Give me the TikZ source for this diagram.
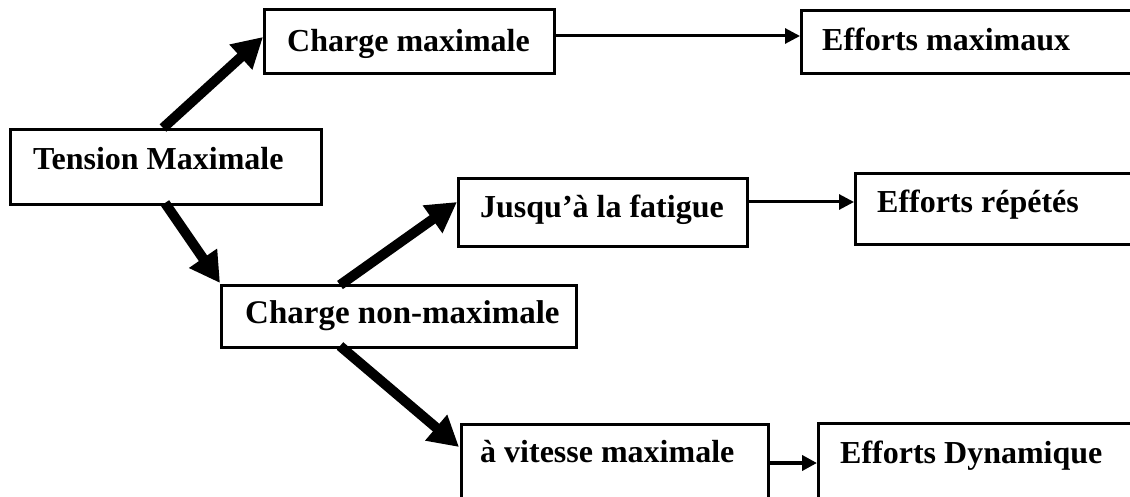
\documentclass[tikz,border=0pt]{standalone}
\usepackage{fontspec}
\setmainfont{Liberation Serif}
\usetikzlibrary{arrows.meta}
\tikzset{
  box/.style={draw=black, line width=3pt, rectangle, inner sep=0pt, anchor=north west},
  lbl/.style={anchor=base west, inner sep=0pt, font=\fontsize{32}{38}\selectfont\bfseries},
  bigarrow/.style={line width=10pt, -{Triangle[length=30pt,width=32pt]}},
  thinarrow/.style={line width=3pt, -{Triangle[length=15pt,width=15pt]}},
}
\begin{document}
\begin{tikzpicture}[x=1pt,y=-1pt]
  \useasboundingbox (0,0) rectangle (1130,497);
  \clip (0,0) rectangle (1130,497);
  % boxes (x, y of the top-left corner; width and height)
  \node[box, minimum width=311pt, minimum height=75pt] (tm) at (9,128) {};
  \node[box, minimum width=290pt, minimum height=64pt] (cm) at (263,8) {};
  \node[box, minimum width=360pt, minimum height=63pt] (em) at (800,9) {};
  \node[box, minimum width=289pt, minimum height=68pt] (jf) at (457,177) {};
  \node[box, minimum width=300pt, minimum height=71pt] (er) at (854,172) {};
  \node[box, minimum width=355pt, minimum height=62pt] (cn) at (220,284) {};
  \node[box, minimum width=307pt, minimum height=75pt] (vm) at (460,423) {};
  \node[box, minimum width=340pt, minimum height=75pt] (ed) at (817,422) {};
  % labels
  \node[lbl] (ttm) at (33,170) {Tension Maximale};
  \node[lbl] (tcm) at (287,52) {Charge maximale};
  \node[lbl] (tem) at (822,51) {Efforts maximaux};
  \node[lbl] (tjf) at (480,218) {Jusqu’à la fatigue};
  \node[lbl] (ter) at (877,213) {Efforts répétés};
  \node[lbl, font=\fontsize{33}{38}\selectfont\bfseries] (tcn) at (245,323) {Charge non-maximale};
  \node[lbl] (tvm) at (480,462) {à vitesse maximale};
  \node[lbl] (ted) at (840,463) {Efforts Dynamique};
  % thick branching arrows
  \coordinate (a1) at (163,128);
  \coordinate (a1e) at (263,37);
  \draw[bigarrow] (a1) -- (a1e);
  \coordinate (a2) at (165,203);
  \coordinate (a2e) at (220,283);
  \draw[bigarrow] (a2) -- (a2e);
  \coordinate (a3) at (340,285);
  \coordinate (a3e) at (457,202);
  \draw[bigarrow] (a3) -- (a3e);
  \coordinate (a4) at (340,346);
  \coordinate (a4e) at (459,447);
  \draw[bigarrow] (a4) -- (a4e);
  % thin arrows to the effort boxes
  \draw[thinarrow] (cm.east |- 0,36) -- (em.west |- 0,36);
  \draw[thinarrow] (jf.east |- 0,202) -- (er.west |- 0,202);
  \draw[thinarrow, line width=4pt] (vm.east |- 0,463) -- (ed.west |- 0,463);
\end{tikzpicture}
\end{document}
